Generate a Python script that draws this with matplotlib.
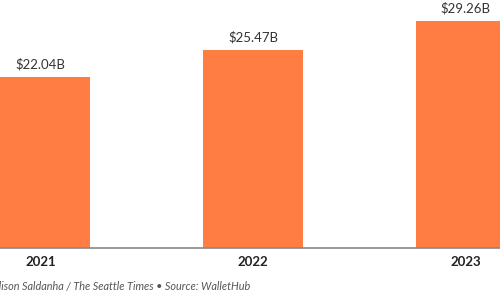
import matplotlib.pyplot as plt

years = ["2021", "2022", "2023"]
values = [22.04, 25.47, 29.26]
labels = ["$22.04B", "$25.47B", "$29.26B"]

plt.rcParams["font.family"] = ["Lato", "DejaVu Sans"]

fig = plt.figure(figsize=(5, 3.03), dpi=100)
ax = fig.add_axes([0, 55 / 303, 1, 248 / 303])

x = list(range(len(years)))
ax.bar(x, values, width=0.466, color="#FF7C43", zorder=2)

for xi, v, lab in zip(x, values, labels):
    ax.annotate(lab, (xi, v), xytext=(0, 5), textcoords="offset points",
                ha="center", va="bottom", fontsize=9.5, color="#333333")

ax.set_xlim(-40.5 / 212.5, 459.5 / 212.5)
ax.set_ylim(0, 31.96)
ax.set_xticks(x)
ax.set_xticklabels(years, fontsize=9.5, fontweight="bold", color="#222222")
ax.tick_params(axis="x", length=0, pad=6)
ax.set_yticks([])
for s in ["top", "left", "right"]:
    ax.spines[s].set_visible(False)
ax.spines["bottom"].set_color("#888888")
ax.spines["bottom"].set_linewidth(1.2)

# credit line is cut off at the left edge in the original
fig.text(250 / 500, 1 - 287 / 303, "Graphic: Alison Saldanha / The Seattle Times \u2022 Source: WalletHub",
         ha="right", va="center", fontsize=7.8, style="italic", color="#555555")

fig.savefig("out.png", dpi=100)
